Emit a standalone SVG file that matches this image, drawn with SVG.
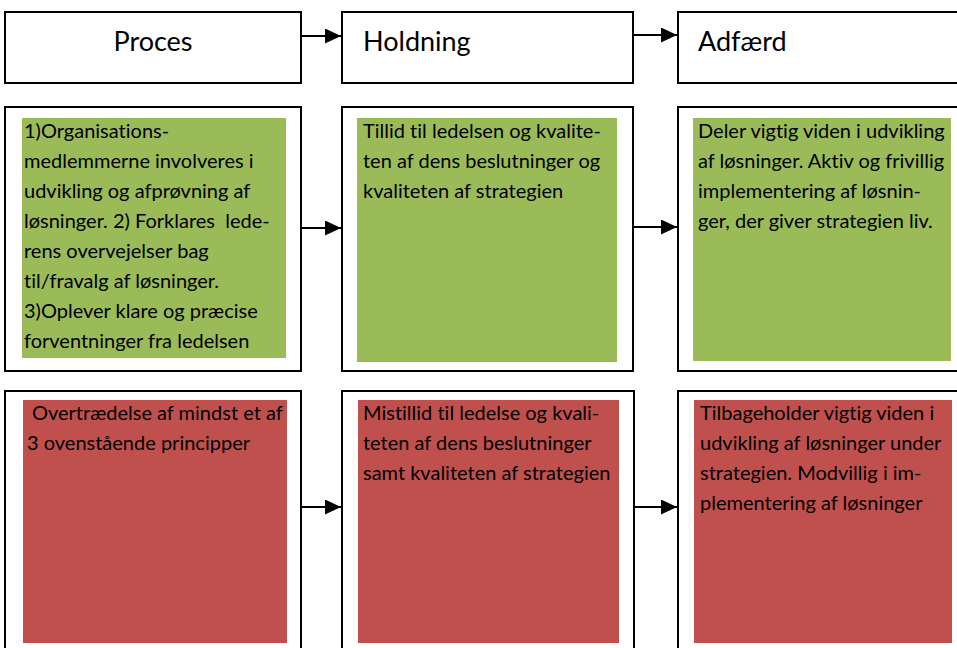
<svg xmlns="http://www.w3.org/2000/svg" width="957" height="648" viewBox="0 0 957 648">
<style>
.box{fill:#fff;stroke:#000;stroke-width:2}
.g{fill:#9BBB59}
.r{fill:#C0504D}
.h{font-family:Lato,"Open Sans",sans-serif;font-size:27px;fill:#000}
.t{font-family:Lato,"Open Sans",sans-serif;font-size:20px;fill:#000;font-variant-ligatures:none}
.c{stroke:#000;stroke-width:2;fill:none;marker-end:url(#ah)}
</style>
<defs>
<marker id="ah" markerUnits="userSpaceOnUse" markerWidth="16" markerHeight="15" refX="16" refY="7.5" orient="auto">
<path d="M0,0 L16,7.5 L0,15 Z" fill="#000"/>
</marker>
</defs>
<rect width="957" height="648" fill="#fff"/>
<g id="head-proces">
<rect class="box" x="5" y="12" width="296" height="71"/>
<text class="h" x="153" y="51" text-anchor="middle">Proces</text>
</g>
<g id="head-holdning">
<rect class="box" x="342" y="12" width="291" height="71"/>
<text class="h" x="363" y="51">Holdning</text>
</g>
<g id="head-adfaerd">
<rect class="box" x="678" y="12" width="300" height="71"/>
<text class="h" x="698" y="51">Adfærd</text>
</g>
<g id="proces-pos">
<rect class="box" x="5" y="107" width="296" height="264"/>
<rect class="g" x="22" y="118" width="264" height="240"/>
<text class="t" x="24">
<tspan x="24" y="138">1)Organisations-</tspan>
<tspan x="24" y="168">medlemmerne involveres i</tspan>
<tspan x="24" y="198">udvikling og afprøvning af</tspan>
<tspan x="24" y="228">løsninger. 2) Forklares&#160; lede-</tspan>
<tspan x="24" y="258">rens overvejelser bag</tspan>
<tspan x="24" y="288">til/fravalg af løsninger.</tspan>
<tspan x="24" y="318">3)Oplever klare og præcise</tspan>
<tspan x="24" y="348">forventninger fra ledelsen</tspan>
</text>
</g>
<g id="holdning-pos">
<rect class="box" x="342" y="107" width="291" height="264"/>
<rect class="g" x="357" y="118" width="260" height="244"/>
<text class="t">
<tspan x="363" y="138">Tillid til ledelsen og kvalite-</tspan>
<tspan x="363" y="168">ten af dens beslutninger og</tspan>
<tspan x="363" y="198">kvaliteten af strategien</tspan>
</text>
</g>
<g id="adfaerd-pos">
<rect class="box" x="678" y="107" width="300" height="264"/>
<rect class="g" x="693" y="118" width="258" height="243"/>
<text class="t">
<tspan x="698" y="138">Deler vigtig viden i udvikling</tspan>
<tspan x="698" y="168">af løsninger. Aktiv og frivillig</tspan>
<tspan x="698" y="198">implementering af løsnin-</tspan>
<tspan x="698" y="228">ger, der giver strategien liv.</tspan>
</text>
</g>
<g id="proces-neg">
<rect class="box" x="5" y="391" width="296" height="270"/>
<rect class="r" x="23" y="400" width="264" height="243"/>
<text class="t">
<tspan x="32" y="420">Overtrædelse af mindst et af</tspan>
<tspan x="27" y="450">3 ovenstående principper</tspan>
</text>
</g>
<g id="holdning-neg">
<rect class="box" x="342" y="391" width="292" height="270"/>
<rect class="r" x="358" y="400" width="261" height="243"/>
<text class="t">
<tspan x="363" y="420">Mistillid til ledelse og kvali-</tspan>
<tspan x="363" y="450">teten af dens beslutninger</tspan>
<tspan x="363" y="480">samt kvaliteten af strategien</tspan>
</text>
</g>
<g id="adfaerd-neg">
<rect class="box" x="678" y="391" width="300" height="270"/>
<rect class="r" x="694" y="400" width="258" height="243"/>
<text class="t">
<tspan x="700" y="420">Tilbageholder vigtig viden i</tspan>
<tspan x="700" y="450">udvikling af løsninger under</tspan>
<tspan x="700" y="480">strategien. Modvillig i im-</tspan>
<tspan x="700" y="510">plementering af løsninger</tspan>
</text>
</g>
<g id="connectors">
<line class="c" x1="302" y1="36" x2="341" y2="36"/>
<line class="c" x1="634" y1="35" x2="677" y2="35"/>
<line class="c" x1="302" y1="228" x2="341" y2="228"/>
<line class="c" x1="634" y1="227" x2="677" y2="227"/>
<line class="c" x1="302" y1="507" x2="341" y2="507"/>
<line class="c" x1="635" y1="507" x2="677" y2="507"/>
</g>
</svg>
